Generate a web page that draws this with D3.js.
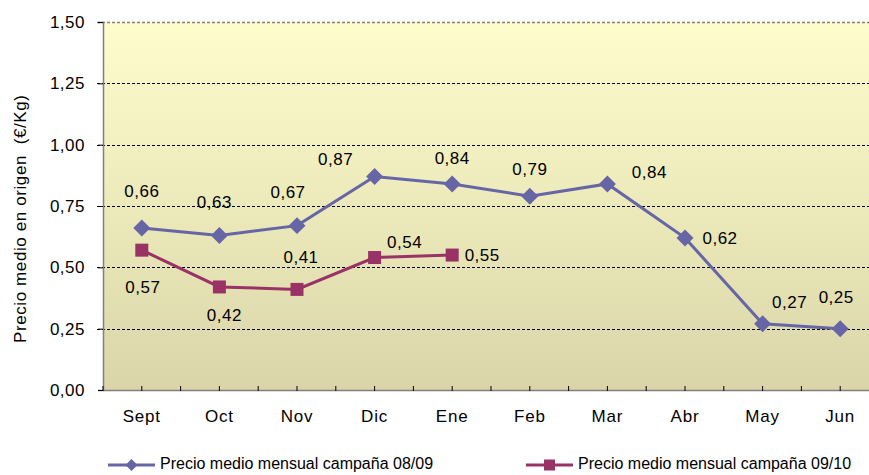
<!DOCTYPE html>
<html><head><meta charset="utf-8">
<script src="https://cdn.jsdelivr.net/npm/d3@7"></script>
<style>body{margin:0;background:#fff;}svg{display:block;font-family:"Liberation Sans",Arial,sans-serif;}</style>
</head><body><svg id="c" width="869" height="475"></svg>
<script>
const months = ["Sept","Oct","Nov","Dic","Ene","Feb","Mar","Abr","May","Jun"];
const serie0809 = [0.66,0.63,0.67,0.87,0.84,0.79,0.84,0.62,0.27,0.25];
const serie0910 = [0.57,0.42,0.41,0.54,0.55];
const yTicks = [0,0.25,0.5,0.75,1,1.25,1.5];
const seriesNames = ["Precio medio mensual campaña 08/09","Precio medio mensual campaña 09/10"];
const yTitle = "Precio medio en origen  (€/Kg)";

// label placement (layout, not data)
const off0809 = [[0,-36],[-5,-32],[-9,-32],[-39,-16],[0,-24],[0,-26],[42,-10],[35,2],[27,-20],[-4,-30]];
const off0910 = [[1,38],[5,30],[4,-31],[30,-14],[30,1]];

const svg = d3.select("#c");
const FF = "Liberation Sans, Arial, sans-serif";
const M = {l:103, t:22, r:879, b:390};
const x = d3.scaleBand().domain(months).range([M.l, M.r]).paddingInner(0).paddingOuter(0);
const y = d3.scaleLinear().domain([0,1.5]).range([M.b, M.t]);
const cx = d => x(d) + x.bandwidth()/2;
const fmt = v => d3.format(".2f")(v).replace(".", ",");

const defs = svg.append("defs");
const g = defs.append("linearGradient").attr("id","bg").attr("x1",0).attr("y1",0).attr("x2",0).attr("y2",1);
g.append("stop").attr("offset","0%").attr("stop-color","#FFFDCC");
g.append("stop").attr("offset","100%").attr("stop-color","#D9D5A9");
svg.append("rect").attr("x",M.l).attr("y",M.t).attr("width",M.r-M.l).attr("height",M.b-M.t).attr("fill","url(#bg)");

// gridlines
svg.append("g").selectAll("line").data(yTicks.filter(d=>d>0)).join("line")
  .attr("x1",M.l-6).attr("x2",M.r).attr("y1",d=>Math.round(y(d))+0.5).attr("y2",d=>Math.round(y(d))+0.5)
  .attr("stroke",d=>d===1.5?"#808080":"#000").attr("stroke-width",d=>d===1.5?1.5:1).attr("stroke-dasharray","3,2");

// y axis
const ya = svg.append("g").attr("transform",`translate(${M.l},0)`)
  .call(d3.axisLeft(y).tickValues(yTicks).tickFormat(fmt).tickSize(5).tickPadding(13));
ya.select(".domain").attr("stroke","#808080").attr("stroke-width",1.5);
ya.selectAll(".tick line").attr("stroke","#000");
ya.selectAll("text").attr("font-size",17).attr("letter-spacing",0.5).attr("fill","#000").attr("font-family",FF);

// x axis
const xa = svg.append("g").attr("transform",`translate(0,${M.b})`)
  .call(d3.axisBottom(x).tickSize(0).tickPadding(20));
xa.select(".domain").attr("stroke","#808080").attr("stroke-width",1.5);
xa.selectAll("text").attr("font-size",17).attr("letter-spacing",0.8).attr("fill","#000").attr("font-family",FF);
// tick marks at centers and boundaries
const tickXs = [];
months.forEach(m=>{tickXs.push(x(m)); tickXs.push(cx(m));});
svg.append("g").selectAll("line").data(tickXs).join("line")
  .attr("x1",d=>d).attr("x2",d=>d).attr("y1",M.b-4).attr("y2",M.b+1).attr("stroke","#000").attr("stroke-width",1);

// y title
svg.append("text").attr("transform",`translate(26,219) rotate(-90)`)
  .attr("text-anchor","middle").attr("font-size",17).attr("xml:space","preserve")
  .style("white-space","pre").attr("textLength",248).attr("lengthAdjust","spacing").text(yTitle);

const c1 = "#6666A6", c2 = "#993366";
const line = d3.line().x((d,i)=>cx(months[i])).y(d=>y(d));
svg.append("path").datum(serie0809).attr("d",line).attr("fill","none").attr("stroke",c1).attr("stroke-width",3);
svg.append("path").datum(serie0910).attr("d",line).attr("fill","none").attr("stroke",c2).attr("stroke-width",3);

svg.append("g").selectAll("path").data(serie0809).join("path")
  .attr("transform",(d,i)=>`translate(${cx(months[i])},${y(d)}) rotate(45)`)
  .attr("d",d3.symbol().type(d3.symbolSquare).size(144)).attr("fill",c1);
svg.append("g").selectAll("rect").data(serie0910).join("rect")
  .attr("x",(d,i)=>cx(months[i])-6.5).attr("y",d=>y(d)-6.5).attr("width",13).attr("height",13).attr("fill",c2);

// data labels
svg.append("g").selectAll("text").data(serie0809).join("text")
  .attr("x",(d,i)=>cx(months[i])+off0809[i][0]).attr("y",(d,i)=>y(d)+off0809[i][1])
  .attr("text-anchor","middle").attr("dominant-baseline","middle").attr("font-size",17).attr("letter-spacing",0.5).text(fmt);
svg.append("g").selectAll("text").data(serie0910).join("text")
  .attr("x",(d,i)=>cx(months[i])+off0910[i][0]).attr("y",(d,i)=>y(d)+off0910[i][1])
  .attr("text-anchor","middle").attr("dominant-baseline","middle").attr("font-size",17).attr("letter-spacing",0.5).text(fmt);

// legend
const leg = [{x:108,c:c1,t:"d",name:seriesNames[0]},{x:526,c:c2,t:"s",name:seriesNames[1]}];
leg.forEach(L=>{
  const gy=465;
  svg.append("line").attr("x1",L.x).attr("x2",L.x+47).attr("y1",gy).attr("y2",gy).attr("stroke",L.c).attr("stroke-width",3);
  if(L.t==="d") svg.append("path").attr("transform",`translate(${L.x+23.5},${gy}) rotate(45)`).attr("d",d3.symbol().type(d3.symbolSquare).size(72)).attr("fill",L.c);
  else svg.append("rect").attr("x",L.x+23.5-5.5).attr("y",gy-5.5).attr("width",11).attr("height",11).attr("fill",L.c);
  svg.append("text").attr("x",L.x+52).attr("y",gy).attr("dominant-baseline","middle").attr("font-size",16).text(L.name);
});
</script></body></html>
